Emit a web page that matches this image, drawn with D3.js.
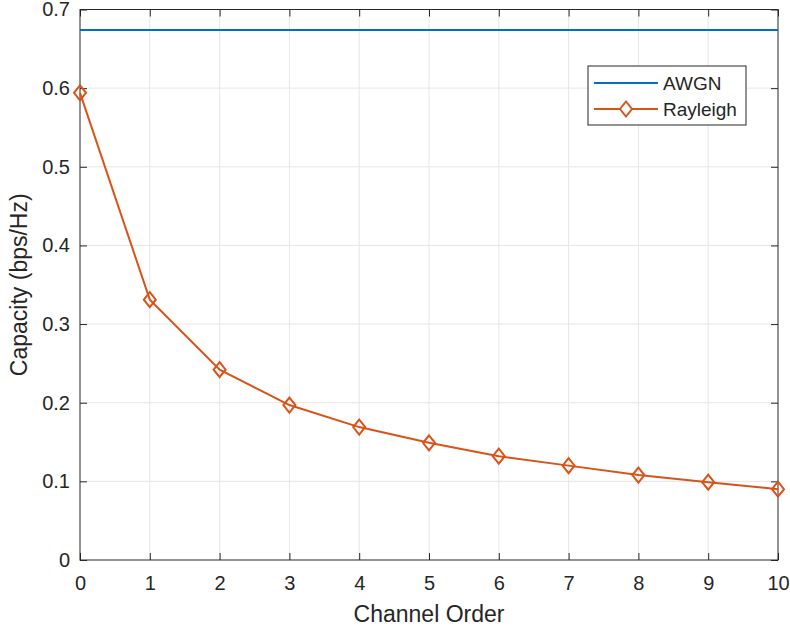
<!DOCTYPE html>
<html>
<head>
<meta charset="utf-8">
<script src="https://cdn.jsdelivr.net/npm/d3@7/dist/d3.min.js"></script>
<style>
  body { margin: 0; background: #fff; }
  text { font-family: "Liberation Sans", Arial, Helvetica, sans-serif; fill: #262626; }
</style>
</head>
<body>
<svg id="chart" width="790" height="632"></svg>
<script>
// channel order on x, capacity in bps/Hz on y
var orders = [0, 1, 2, 3, 4, 5, 6, 7, 8, 9, 10];
var rayleigh = [0.594, 0.331, 0.242, 0.197, 0.169, 0.149, 0.132, 0.120, 0.108, 0.099, 0.090];
var awgn = 0.674;
var xTicks = [0, 1, 2, 3, 4, 5, 6, 7, 8, 9, 10];
var yTicks = [0, 0.1, 0.2, 0.3, 0.4, 0.5, 0.6, 0.7];
var seriesNames = ["AWGN", "Rayleigh"];

var blue = "#0072BD", orange = "#D95319";
var svg = d3.select("#chart");
var pL = 80, pR = 778, pT = 9.5, pB = 560;

var x = d3.scaleLinear().domain([0, 10]).range([pL, pR]);
var y = d3.scaleLinear().domain([0, 0.7]).range([pB, pT]);

// grid
var grid = svg.append("g").attr("stroke", "#e6e6e6").attr("stroke-width", 1);
grid.selectAll(".gx").data(xTicks.slice(1, -1)).enter().append("line")
    .attr("x1", d => x(d)).attr("x2", d => x(d)).attr("y1", pT).attr("y2", pB);
grid.selectAll(".gy").data(yTicks.slice(1, -1)).enter().append("line")
    .attr("y1", d => y(d)).attr("y2", d => y(d)).attr("x1", pL).attr("x2", pR);

// axes (ticks inward, box on)
function axisStyle(g) {
  g.select(".domain").remove();
  g.attr("font-size", null).attr("font-family", null);
  g.selectAll(".tick line").attr("stroke", "#262626");
  g.selectAll(".tick text").style("font-size", "20px").attr("fill", "#262626");
}
svg.append("g").attr("transform", `translate(0,${pB})`)
  .call(d3.axisBottom(x).tickValues(xTicks).tickFormat(d3.format("d")).tickSizeInner(-7).tickPadding(16))
  .call(axisStyle);
svg.append("g").attr("transform", `translate(${pL},0)`)
  .call(d3.axisLeft(y).tickValues(yTicks).tickFormat(d => d === 0 ? "0" : d3.format(".1f")(d)).tickSizeInner(-7).tickPadding(10))
  .call(axisStyle);
svg.append("g").attr("transform", `translate(0,${pT})`)
  .call(d3.axisTop(x).tickValues(xTicks).tickFormat("").tickSizeInner(-7))
  .call(axisStyle);
svg.append("g").attr("transform", `translate(${pR},0)`)
  .call(d3.axisRight(y).tickValues(yTicks).tickFormat("").tickSizeInner(-7))
  .call(axisStyle);

svg.append("rect").attr("x", pL).attr("y", pT).attr("width", pR - pL).attr("height", pB - pT)
  .attr("fill", "none").attr("stroke", "#262626").attr("stroke-width", 1);

// AWGN
svg.append("line").attr("x1", x(0)).attr("x2", x(10)).attr("y1", y(awgn)).attr("y2", y(awgn))
  .attr("stroke", blue).attr("stroke-width", 2);

// Rayleigh
var data = orders.map((o, i) => [o, rayleigh[i]]);
svg.append("path").datum(data)
  .attr("d", d3.line().x(d => x(d[0])).y(d => y(d[1])))
  .attr("fill", "none").attr("stroke", orange).attr("stroke-width", 2);

function diamond(cx, cy) {
  return `M${cx},${cy - 7.5}L${cx + 6},${cy}L${cx},${cy + 7.5}L${cx - 6},${cy}Z`;
}
svg.selectAll(".mk").data(data).enter().append("path")
  .attr("d", d => diamond(x(d[0]), y(d[1])))
  .attr("fill", "none").attr("stroke", orange).attr("stroke-width", 2);

// axis labels
svg.append("text").attr("x", (pL + pR) / 2).attr("y", 622).attr("text-anchor", "middle")
  .style("font-size", "23px").text("Channel Order");
svg.append("text").attr("transform", `translate(27,${(pT + pB) / 2}) rotate(-90)`)
  .attr("text-anchor", "middle").style("font-size", "23px").text("Capacity (bps/Hz)");

// legend
var lg = svg.append("g");
lg.append("rect").attr("x", 588).attr("y", 66).attr("width", 158).attr("height", 59)
  .attr("fill", "#fff").attr("stroke", "#262626").attr("stroke-width", 1);
var rows = [83, 109];
lg.append("line").attr("x1", 594).attr("x2", 658).attr("y1", rows[0]).attr("y2", rows[0])
  .attr("stroke", blue).attr("stroke-width", 2);
lg.append("line").attr("x1", 594).attr("x2", 658).attr("y1", rows[1]).attr("y2", rows[1])
  .attr("stroke", orange).attr("stroke-width", 2);
lg.append("path").attr("d", diamond(626, rows[1])).attr("fill", "#fff").attr("stroke", orange).attr("stroke-width", 2);
seriesNames.forEach((n, i) => {
  lg.append("text").attr("x", 663).attr("y", rows[i]).attr("dy", "0.36em")
    .style("font-size", "19px").text(n);
});
</script>
</body>
</html>
